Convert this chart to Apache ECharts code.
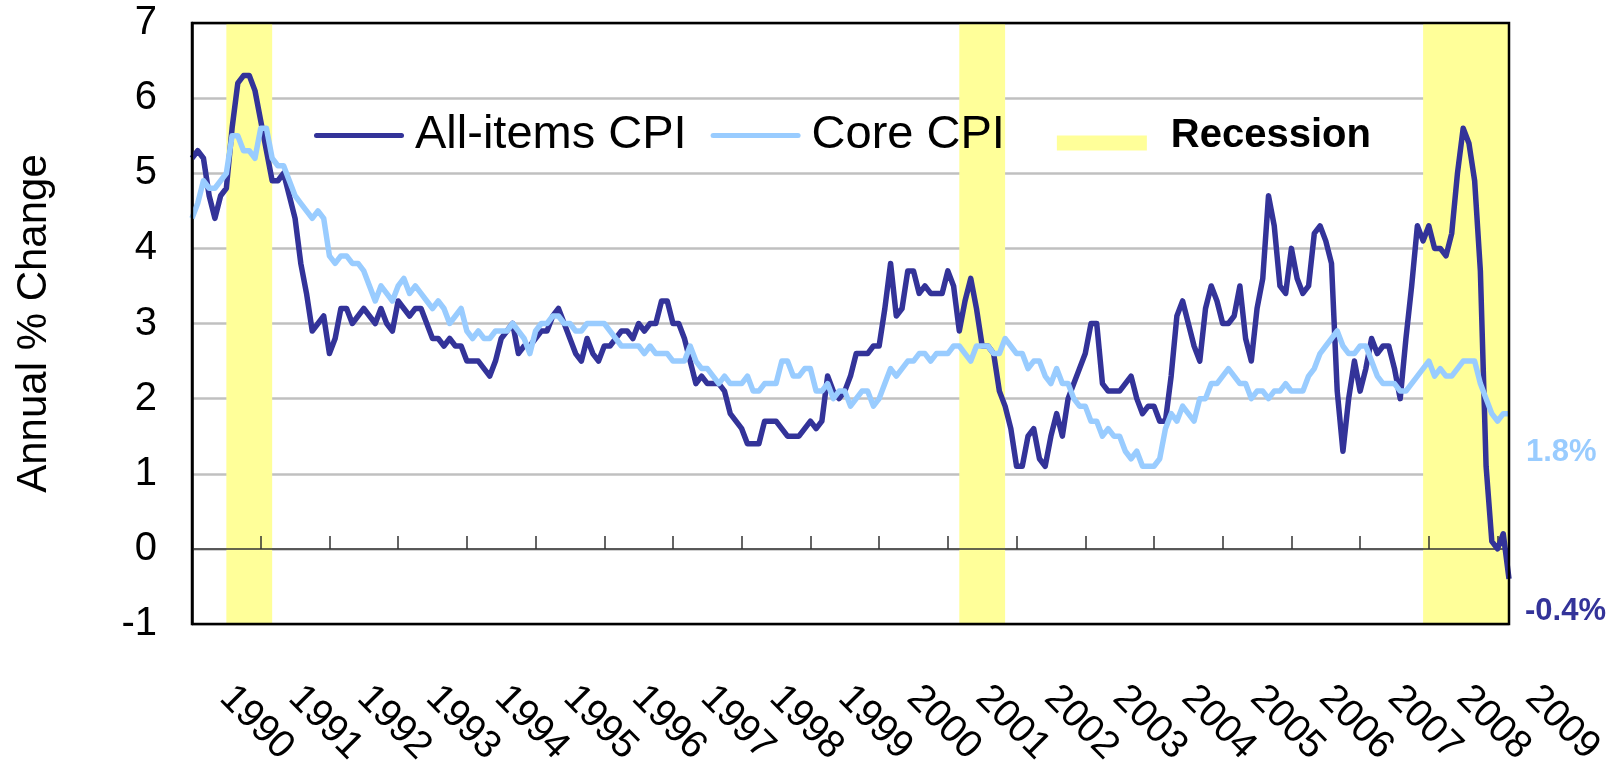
<!DOCTYPE html>
<html>
<head>
<meta charset="utf-8">
<script src="https://cdn.jsdelivr.net/npm/echarts@6/dist/echarts.min.js"></script>
<style>
  html, body { margin: 0; padding: 0; background: #fff; }
  #chart { width: 1623px; height: 771px; }
</style>
</head>
<body>
<div id="chart"></div>
<script>
  // 年份刻度
  const yearLabels = ['1990', '1991', '1992', '1993', '1994', '1995', '1996', '1997', '1998', '1999',
    '2000', '2001', '2002', '2003', '2004', '2005', '2006', '2007', '2008', '2009'];

  // All-items CPI, 同比 %
  const allItemsCpi = [
    5.2, 5.3, 5.2, 4.7, 4.4, 4.7, 4.8, 5.6, 6.2, 6.3, 6.3, 6.1,
    5.7, 5.3, 4.9, 4.9, 5.0, 4.7, 4.4, 3.8, 3.4, 2.9, 3.0, 3.1,
    2.6, 2.8, 3.2, 3.2, 3.0, 3.1, 3.2, 3.1, 3.0, 3.2, 3.0, 2.9,
    3.3, 3.2, 3.1, 3.2, 3.2, 3.0, 2.8, 2.8, 2.7, 2.8, 2.7, 2.7,
    2.5, 2.5, 2.5, 2.4, 2.3, 2.5, 2.8, 2.9, 3.0, 2.6, 2.7, 2.7,
    2.8, 2.9, 2.9, 3.1, 3.2, 3.0, 2.8, 2.6, 2.5, 2.8, 2.6, 2.5,
    2.7, 2.7, 2.8, 2.9, 2.9, 2.8, 3.0, 2.9, 3.0, 3.0, 3.3, 3.3,
    3.0, 3.0, 2.8, 2.5, 2.2, 2.3, 2.2, 2.2, 2.2, 2.1, 1.8, 1.7,
    1.6, 1.4, 1.4, 1.4, 1.7, 1.7, 1.7, 1.6, 1.5, 1.5, 1.5, 1.6,
    1.7, 1.6, 1.7, 2.3, 2.1, 2.0, 2.1, 2.3, 2.6, 2.6, 2.6, 2.7,
    2.7, 3.2, 3.8, 3.1, 3.2, 3.7, 3.7, 3.4, 3.5, 3.4, 3.4, 3.4,
    3.7, 3.5, 2.9, 3.3, 3.6, 3.2, 2.7, 2.7, 2.6, 2.1, 1.9, 1.6,
    1.1, 1.1, 1.5, 1.6, 1.2, 1.1, 1.5, 1.8, 1.5, 2.0, 2.2, 2.4,
    2.6, 3.0, 3.0, 2.2, 2.1, 2.1, 2.1, 2.2, 2.3, 2.0, 1.8, 1.9,
    1.9, 1.7, 1.7, 2.3, 3.1, 3.3, 3.0, 2.7, 2.5, 3.2, 3.5, 3.3,
    3.0, 3.0, 3.1, 3.5, 2.8, 2.5, 3.2, 3.6, 4.7, 4.3, 3.5, 3.4,
    4.0, 3.6, 3.4, 3.5, 4.2, 4.3, 4.1, 3.8, 2.1, 1.3, 2.0, 2.5,
    2.1, 2.4, 2.8, 2.6, 2.7, 2.7, 2.4, 2.0, 2.8, 3.5, 4.3, 4.1,
    4.3, 4.0, 4.0, 3.9, 4.2, 5.0, 5.6, 5.4, 4.9, 3.7, 1.1, 0.1,
    0.0, 0.2, -0.4
  ];

  // Core CPI, 同比 %
  const coreCpi = [
    4.4, 4.6, 4.9, 4.8, 4.8, 4.9, 5.0, 5.5, 5.5, 5.3, 5.3, 5.2,
    5.6, 5.6, 5.2, 5.1, 5.1, 4.9, 4.7, 4.6, 4.5, 4.4, 4.5, 4.4,
    3.9, 3.8, 3.9, 3.9, 3.8, 3.8, 3.7, 3.5, 3.3, 3.5, 3.4, 3.3,
    3.5, 3.6, 3.4, 3.5, 3.4, 3.3, 3.2, 3.3, 3.2, 3.0, 3.1, 3.2,
    2.9, 2.8, 2.9, 2.8, 2.8, 2.9, 2.9, 2.9, 3.0, 2.9, 2.8, 2.6,
    2.9, 3.0, 3.0, 3.1, 3.1, 3.0, 3.0, 2.9, 2.9, 3.0, 3.0, 3.0,
    3.0, 2.9, 2.8, 2.7, 2.7, 2.7, 2.7, 2.6, 2.7, 2.6, 2.6, 2.6,
    2.5, 2.5, 2.5, 2.7, 2.5, 2.4, 2.4, 2.3, 2.2, 2.3, 2.2, 2.2,
    2.2, 2.3, 2.1, 2.1, 2.2, 2.2, 2.2, 2.5, 2.5, 2.3, 2.3, 2.4,
    2.4, 2.1, 2.1, 2.2, 2.0, 2.1, 2.1, 1.9, 2.0, 2.1, 2.1, 1.9,
    2.0, 2.2, 2.4, 2.3, 2.4, 2.5, 2.5, 2.6, 2.6, 2.5, 2.6, 2.6,
    2.6, 2.7, 2.7, 2.6, 2.5, 2.7, 2.7, 2.7, 2.6, 2.6, 2.8, 2.7,
    2.6, 2.6, 2.4, 2.5, 2.5, 2.3, 2.2, 2.4, 2.2, 2.2, 2.0, 1.9,
    1.9, 1.7, 1.7, 1.5, 1.6, 1.5, 1.5, 1.3, 1.2, 1.3, 1.1, 1.1,
    1.1, 1.2, 1.6, 1.8, 1.7, 1.9, 1.8, 1.7, 2.0, 2.0, 2.2, 2.2,
    2.3, 2.4, 2.3, 2.2, 2.2, 2.0, 2.1, 2.1, 2.0, 2.1, 2.1, 2.2,
    2.1, 2.1, 2.1, 2.3, 2.4, 2.6, 2.7, 2.8, 2.9, 2.7, 2.6, 2.6,
    2.7, 2.7, 2.5, 2.3, 2.2, 2.2, 2.2, 2.1, 2.1, 2.2, 2.3, 2.4,
    2.5, 2.3, 2.4, 2.3, 2.3, 2.4, 2.5, 2.5, 2.5, 2.2, 2.0, 1.8,
    1.7, 1.8, 1.8
  ];

  // 衰退期 (起, 止)
  const recessions = [['1990-07', '1991-03'], ['2001-03', '2001-11'], ['2007-12', '2009-03']];

  // 月份类目
  let months = [];
  for (let y of yearLabels) {
    for (let m = 1; m <= 12; m++) {
      months.push(y + '-' + (m < 10 ? '0' + m : m));
    }
  }
  months = months.slice(0, allItemsCpi.length);

  const lastMonth = months[months.length - 1];
  const font = 'Liberation Sans, Arial, sans-serif';
  // 图例图标: 圆头线段 / 偏下的黄色色块
  const lineIcon = 'path://M2.5,0 L87.5,0 A2.5,2.5 0 0 1 87.5,5 L2.5,5 A2.5,2.5 0 0 1 2.5,0 Z';
  const rectIcon = 'path://M0,0 M0,15 L90,15 L90,30 L0,30 Z';

  let chart = echarts.init(document.getElementById('chart'));
  chart.setOption({
    animation: false,
    textStyle: { fontFamily: font },
    grid: {
      left: 192, right: 114, top: 23, bottom: 147,
      show: true, borderColor: '#000', borderWidth: 2.5, z: 5
    },
    legend: {
      left: 314, top: 112, padding: 0,
      itemWidth: 90, itemHeight: 30, itemGap: 24,
      itemStyle: { borderWidth: 0 },
      textStyle: { fontSize: 47, color: '#000', padding: [0, 0, 0, 6] },
      data: [
        { name: 'All-items CPI', icon: lineIcon },
        {
          name: 'Core CPI', icon: lineIcon,
          // 透明背景, 让右侧留白计入图例宽度
          textStyle: { padding: [0, 28, 0, 6], backgroundColor: 'rgba(255,255,255,0)' }
        },
        {
          name: 'Recession', icon: rectIcon, itemStyle: { color: '#FFFF99' },
          textStyle: { fontSize: 40, fontWeight: 'bold', padding: [0, 0, 0, 19] }
        }
      ]
    },
    xAxis: [
      {
        type: 'category', data: months, boundaryGap: false, z: 1,
        axisLine: { onZero: true, lineStyle: { color: '#333', width: 1.5 } },
        axisTick: { inside: true, interval: 11, length: 13, lineStyle: { color: '#333', width: 1.5 } },
        axisLabel: { show: false }
      },
      {
        type: 'category', data: months, boundaryGap: false, position: 'bottom',
        axisLine: { show: false, onZero: false },
        axisTick: { show: false },
        axisLabel: {
          interval: 11, rotate: -45, fontSize: 39, color: '#000',
          margin: 34, padding: [0, 0, 0, 48],
          formatter: v => v.slice(0, 4)
        }
      }
    ],
    yAxis: {
      type: 'value', min: -1, max: 7, interval: 1, z: 1,
      name: 'Annual % Change', nameLocation: 'middle', nameGap: 137,
      nameTextStyle: { fontSize: 42, color: '#000' },
      axisLine: { show: true, lineStyle: { color: '#000', width: 2.5 } },
      axisTick: { show: false },
      axisLabel: { fontSize: 40, color: '#000', margin: 35 },
      splitLine: { lineStyle: { color: '#C0C0C0', width: 2.5 } }
    },
    series: [
      {
        name: 'Recession', type: 'line', z: 0, color: '#FFFF99', symbol: 'none',
        data: months.map(() => '-'),
        markArea: {
          silent: true,
          itemStyle: { color: '#FFFF99' },
          data: recessions.map(r => [{ xAxis: r[0] }, { xAxis: r[1] }])
        }
      },
      {
        name: 'All-items CPI', type: 'line', data: allItemsCpi, color: '#333399', symbol: 'none', z: 3,
        lineStyle: { width: 5.5, join: 'round' },
        markPoint: {
          symbol: 'circle', symbolSize: 0, silent: true,
          data: [{ coord: [lastMonth, allItemsCpi[allItemsCpi.length - 1]], value: allItemsCpi[allItemsCpi.length - 1] }],
          label: {
            show: true, position: 'right', distance: 5, offset: [11, 33],
            formatter: '{c}%', color: '#333399', fontSize: 31, fontWeight: 'bold'
          }
        }
      },
      {
        name: 'Core CPI', type: 'line', data: coreCpi, color: '#99CCFF', symbol: 'none', z: 4,
        lineStyle: { width: 5.5, join: 'round' },
        markPoint: {
          symbol: 'circle', symbolSize: 0, silent: true,
          data: [{ coord: [lastMonth, coreCpi[coreCpi.length - 1]], value: coreCpi[coreCpi.length - 1] }],
          label: {
            show: true, position: 'right', distance: 5, offset: [12, 39],
            formatter: '{c}%', color: '#99CCFF', fontSize: 31, fontWeight: 'bold'
          }
        }
      }
    ]
  });
</script>
</body>
</html>
